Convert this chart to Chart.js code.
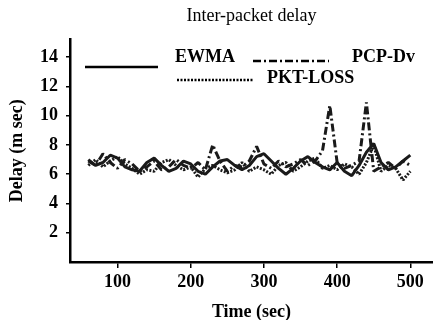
<!DOCTYPE html>
<html>
<head>
<meta charset="utf-8">
<title>Inter-packet delay</title>
<script src="https://cdn.jsdelivr.net/npm/chart.js@4.4.1/dist/chart.umd.min.js"></script>
<style>
    html, body { margin: 0; padding: 0; background: #fff; }
    #wrap { width: 433px; height: 320px; position: relative; }
</style>
</head>
<body>
<div id="wrap"><canvas id="chart-delay"></canvas></div>
<script>
// =====================================================
// DADOS
// =====================================================

const tempos = [60, 70, 80, 90, 100, 110, 120, 130, 140, 150, 160, 170, 180, 190, 200,
    210, 220, 230, 240, 250, 260, 270, 280, 290, 300, 310, 320, 330, 340, 350,
    360, 370, 380, 390, 400, 410, 420, 430, 440, 450, 460, 470, 480, 490, 500];

const ewma = [6.9, 6.6, 6.8, 7.3, 7.1, 6.5, 6.3, 6.2, 6.8, 7.1, 6.6, 6.2, 6.4, 6.9, 6.7,
    6.2, 6.0, 6.5, 6.9, 7.0, 6.6, 6.3, 6.6, 7.2, 7.4, 6.9, 6.4, 6.0, 6.4, 6.9,
    7.2, 6.8, 6.5, 6.3, 6.8, 6.2, 5.9, 6.6, 7.5, 8.1, 6.8, 6.3, 6.5, 6.9, 7.3];

const pcpDv = [7.0, 6.6, 7.4, 6.8, 6.4, 7.0, 6.7, 6.2, 6.5, 6.9, 6.3, 6.5, 7.0, 6.6, 6.4,
    6.8, 6.3, 8.0, 6.9, 6.2, 6.6, 6.5, 6.9, 7.9, 6.7, 6.4, 6.9, 6.5, 6.7, 7.0,
    6.6, 6.9, 7.6, 10.7, 6.8, 6.4, 6.6, 6.9, 10.9, 6.2, 6.5, 6.8, 6.4, 6.9, 6.6];

const pktLoss = [6.6, 7.0, 6.5, 6.9, 7.2, 6.7, 6.4, 6.0, 6.3, 6.2, 6.8, 7.0, 6.6, 6.3, 6.5,
    5.8, 6.4, 6.6, 6.3, 6.1, 6.3, 6.8, 6.2, 6.5, 6.3, 6.0, 6.6, 6.8, 6.2, 6.5,
    6.9, 7.1, 6.4, 6.6, 6.3, 6.7, 6.5, 6.0, 6.8, 8.0, 6.2, 6.6, 6.4, 5.6, 6.2];

const ticksX = [100, 200, 300, 400, 500];
const ticksY = [2, 4, 6, 8, 10, 12, 14];

// =====================================================
// CONFIGURAÇÕES
// =====================================================

const FONTE = "'Liberation Serif', 'Times New Roman', serif";

function pontos(valores) {
    return tempos.map((t, i) => ({ x: t, y: valores[i] }));
}

// Legenda desenhada à mão (duas linhas, como no original)
const legendaManual = {
    id: 'legendaManual',
    afterDraw(chart) {
        const ctx = chart.ctx;
        const ds = chart.data.datasets;
        const itens = [
            { ds: ds[0], x1: 85, x2: 158, yl: 67, tx: 175, ty: 57 },
            { ds: ds[1], x1: 253, x2: 329, yl: 61, tx: 352, ty: 57 },
            { ds: ds[2], x1: 177, x2: 253, yl: 80, tx: 267, ty: 78 }
        ];
        ctx.save();
        itens.forEach(it => {
            ctx.beginPath();
            ctx.strokeStyle = '#000';
            ctx.lineWidth = 2.5;
            ctx.setLineDash(it.ds.borderDash || []);
            ctx.moveTo(it.x1, it.yl);
            ctx.lineTo(it.x2, it.yl);
            ctx.stroke();
            ctx.setLineDash([]);
            ctx.fillStyle = '#000';
            ctx.font = `bold 18px ${FONTE}`;
            ctx.textBaseline = 'middle';
            ctx.fillText(it.ds.label, it.tx, it.ty);
        });
        ctx.restore();
    }
};

const ctx = document.getElementById('chart-delay');

new Chart(ctx, {
    type: 'line',
    data: {
        datasets: [
            {
                label: 'EWMA',
                data: pontos(ewma),
                borderColor: '#1a1a1a',
                borderWidth: 3,
                borderDash: []
            },
            {
                label: 'PCP-Dv',
                data: pontos(pcpDv),
                borderColor: '#1a1a1a',
                borderWidth: 3,
                borderDash: [8, 3, 2, 3]
            },
            {
                label: 'PKT-LOSS',
                data: pontos(pktLoss),
                borderColor: '#1a1a1a',
                borderWidth: 3,
                borderDash: [2, 1.5]
            }
        ]
    },
    options: {
        responsive: true,
        maintainAspectRatio: false,
        animation: false,
        elements: {
            point: { radius: 0 },
            line: { tension: 0, fill: false, borderJoinStyle: 'bevel' }
        },
        layout: { padding: { left: 0, right: 0, top: 0, bottom: 0 } },
        plugins: {
            legend: { display: false },
            tooltip: { enabled: false },
            title: {
                display: true,
                text: 'Inter-packet delay',
                color: '#000',
                fullSize: false,
                font: { family: FONTE, size: 18, weight: 'normal' },
                padding: { top: 5, bottom: 13 }
            }
        },
        scales: {
            x: {
                type: 'linear',
                min: 35,
                max: 531,
                afterFit(scale) { scale.height = 58; },
                afterBuildTicks(scale) { scale.ticks = ticksX.map(v => ({ value: v })); },
                border: { display: true, color: '#000', width: 2.5 },
                grid: { drawOnChartArea: false, drawTicks: true, tickLength: 6, color: '#000', lineWidth: 1.5 },
                ticks: {
                    color: '#000',
                    padding: 4,
                    font: { family: FONTE, size: 18, weight: 'bold' }
                },
                title: {
                    display: true,
                    text: 'Time (sec)',
                    color: '#000',
                    font: { family: FONTE, size: 18, weight: 'bold' },
                    padding: { top: 0, bottom: -3 }
                }
            },
            y: {
                type: 'linear',
                min: 0,
                max: 15.2,
                afterFit(scale) { scale.width = 70; },
                afterBuildTicks(scale) { scale.ticks = ticksY.map(v => ({ value: v })); },
                border: { display: true, color: '#000', width: 2.5 },
                grid: { drawOnChartArea: false, drawTicks: true, tickLength: 4, color: '#000', lineWidth: 1.5 },
                ticks: {
                    color: '#000',
                    padding: 8,
                    font: { family: FONTE, size: 18, weight: 'bold' }
                },
                title: {
                    display: true,
                    text: 'Delay (m sec)',
                    color: '#000',
                    font: { family: FONTE, size: 18, weight: 'bold' },
                    padding: { top: 7, bottom: 0 }
                }
            }
        }
    },
    plugins: [legendaManual]
});
</script>
</body>
</html>
